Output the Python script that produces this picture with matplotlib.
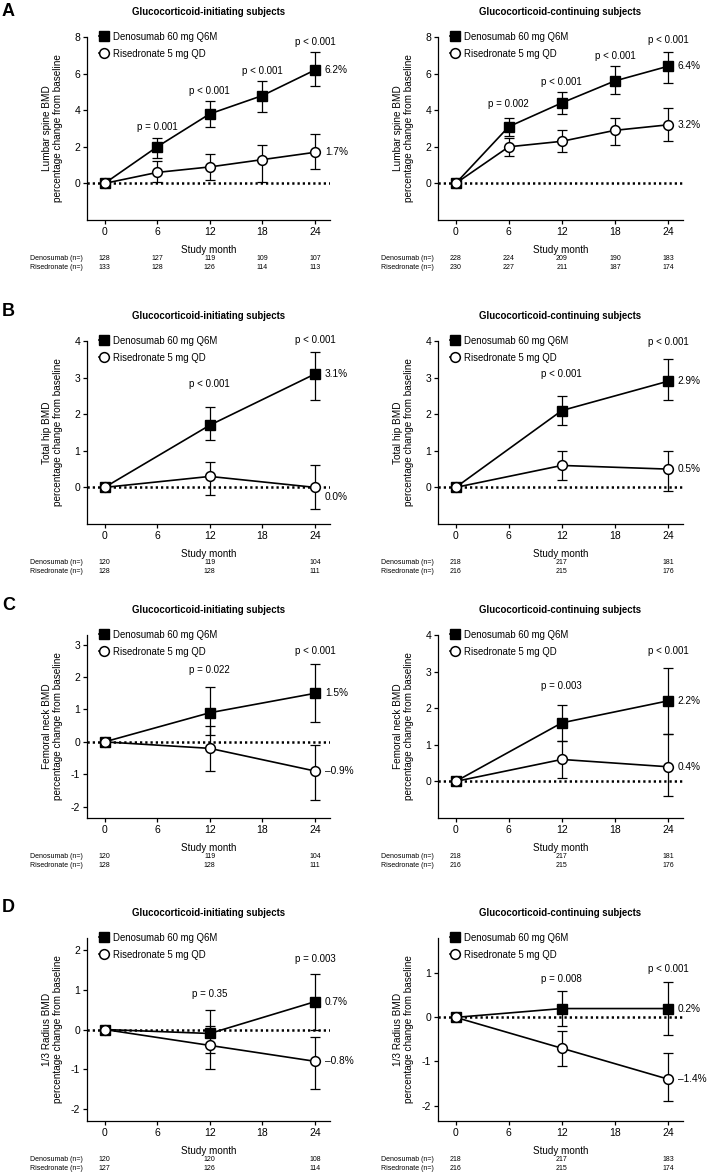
import matplotlib
matplotlib.use("Agg")
import matplotlib.pyplot as plt
from matplotlib.lines import Line2D

plt.rcParams['font.family'] = ['Liberation Sans', 'DejaVu Sans']

# ---- data ----
months_long = [0, 6, 12, 18, 24]
months_short = [0, 12, 24]

# A: lumbar spine
ls_init_deno = [0, 2.0, 3.8, 4.8, 6.2]
ls_init_deno_lo = [0, 1.4, 3.1, 3.9, 5.3]
ls_init_deno_hi = [0, 2.5, 4.5, 5.6, 7.2]
ls_init_rise = [0, 0.6, 0.9, 1.3, 1.7]
ls_init_rise_lo = [0, 0.05, 0.2, 0.1, 0.8]
ls_init_rise_hi = [0, 1.2, 1.6, 2.1, 2.7]
ls_init_p = ["", "p = 0.001", "p < 0.001", "p < 0.001", "p < 0.001"]
ls_init_n_deno = [128, 127, 119, 109, 107]
ls_init_n_rise = [133, 128, 126, 114, 113]

ls_cont_deno = [0, 3.1, 4.4, 5.6, 6.4]
ls_cont_deno_lo = [0, 2.6, 3.8, 4.9, 5.5]
ls_cont_deno_hi = [0, 3.6, 5.0, 6.4, 7.2]
ls_cont_rise = [0, 2.0, 2.3, 2.9, 3.2]
ls_cont_rise_lo = [0, 1.5, 1.7, 2.1, 2.3]
ls_cont_rise_hi = [0, 2.5, 2.9, 3.6, 4.1]
ls_cont_p = ["", "p = 0.002", "p < 0.001", "p < 0.001", "p < 0.001"]
ls_cont_n_deno = [228, 224, 209, 190, 183]
ls_cont_n_rise = [230, 227, 211, 187, 174]

# B: total hip
th_init_deno = [0, 1.7, 3.1]
th_init_deno_lo = [0, 1.3, 2.4]
th_init_deno_hi = [0, 2.2, 3.7]
th_init_rise = [0, 0.3, 0.0]
th_init_rise_lo = [0, -0.2, -0.6]
th_init_rise_hi = [0, 0.7, 0.6]
th_init_p = ["", "p < 0.001", "p < 0.001"]
th_init_n_deno = [120, 119, 104]
th_init_n_rise = [128, 128, 111]

th_cont_deno = [0, 2.1, 2.9]
th_cont_deno_lo = [0, 1.7, 2.4]
th_cont_deno_hi = [0, 2.5, 3.5]
th_cont_rise = [0, 0.6, 0.5]
th_cont_rise_lo = [0, 0.2, -0.1]
th_cont_rise_hi = [0, 1.0, 1.0]
th_cont_p = ["", "p < 0.001", "p < 0.001"]
th_cont_n_deno = [218, 217, 181]
th_cont_n_rise = [216, 215, 176]

# C: femoral neck
fn_init_deno = [0, 0.9, 1.5]
fn_init_deno_lo = [0, 0.2, 0.6]
fn_init_deno_hi = [0, 1.7, 2.4]
fn_init_rise = [0, -0.2, -0.9]
fn_init_rise_lo = [0, -0.9, -1.8]
fn_init_rise_hi = [0, 0.5, -0.1]
fn_init_p = ["", "p = 0.022", "p < 0.001"]
fn_init_n_deno = [120, 119, 104]
fn_init_n_rise = [128, 128, 111]

fn_cont_deno = [0, 1.6, 2.2]
fn_cont_deno_lo = [0, 1.1, 1.3]
fn_cont_deno_hi = [0, 2.1, 3.1]
fn_cont_rise = [0, 0.6, 0.4]
fn_cont_rise_lo = [0, 0.1, -0.4]
fn_cont_rise_hi = [0, 1.1, 1.3]
fn_cont_p = ["", "p = 0.003", "p < 0.001"]
fn_cont_n_deno = [218, 217, 181]
fn_cont_n_rise = [216, 215, 176]

# D: 1/3 radius
rd_init_deno = [0, -0.1, 0.7]
rd_init_deno_lo = [0, -0.6, 0.0]
rd_init_deno_hi = [0, 0.5, 1.4]
rd_init_rise = [0, -0.4, -0.8]
rd_init_rise_lo = [0, -1.0, -1.5]
rd_init_rise_hi = [0, 0.1, -0.2]
rd_init_p = ["", "p = 0.35", "p = 0.003"]
rd_init_n_deno = [120, 120, 108]
rd_init_n_rise = [127, 126, 114]

rd_cont_deno = [0, 0.2, 0.2]
rd_cont_deno_lo = [0, -0.2, -0.4]
rd_cont_deno_hi = [0, 0.6, 0.8]
rd_cont_rise = [0, -0.7, -1.4]
rd_cont_rise_lo = [0, -1.1, -1.9]
rd_cont_rise_hi = [0, -0.3, -0.8]
rd_cont_p = ["", "p = 0.008", "p < 0.001"]
rd_cont_n_deno = [218, 217, 183]
rd_cont_n_rise = [216, 215, 174]

W, H = 709, 1173
fig = plt.figure(figsize=(W / 100, H / 100), dpi=100)


def fmt_pct(v):
    s = "%.1f%%" % abs(v)
    return ("\u2013" + s) if v < 0 else s


def panel(left, top, width, months, deno, dlo, dhi, rise, rlo, rhi, pvals, p_y,
          n_deno, n_rise, ylim, yticks, ylabel, title, rise_lab_y=None):
    ax = fig.add_axes([left / W, 1 - (top + 183) / H, width / W, 183 / H])
    ax.set_xlim(-2, 25.7)
    ax.set_ylim(*ylim)
    ax.set_xticks([0, 6, 12, 18, 24])
    ax.set_yticks(yticks)
    ax.set_yticklabels([str(t) for t in yticks])
    for s in ["top", "right"]:
        ax.spines[s].set_visible(False)
    for s in ["left", "bottom"]:
        ax.spines[s].set_linewidth(0.9)
    ax.tick_params(labelsize=7.5, length=3, width=0.9, pad=2)

    ax.axhline(0, color="black", lw=1.8, ls=(0, (0.9, 1.2)), zorder=1)

    ax.errorbar(months, deno, yerr=[[d - l for d, l in zip(deno, dlo)], [h - d for d, h in zip(deno, dhi)]],
                fmt="none", ecolor="black", elinewidth=0.9, capsize=3.5, capthick=0.9, zorder=2)
    ax.errorbar(months, rise, yerr=[[d - l for d, l in zip(rise, rlo)], [h - d for d, h in zip(rise, rhi)]],
                fmt="none", ecolor="black", elinewidth=0.9, capsize=3.5, capthick=0.9, zorder=2)
    ax.plot(months, deno, color="black", lw=1.2, marker="s", ms=6.5, mfc="black", mec="black", zorder=3)
    ax.plot(months, rise, color="black", lw=1.2, marker="o", ms=7, mfc="white", mec="black", mew=1.1, zorder=4)

    for m, p, y in zip(months, pvals, p_y):
        if p:
            ax.text(m, y, p, ha="center", va="center", fontsize=7)

    ax.annotate(fmt_pct(deno[-1]), (months[-1], deno[-1]), xytext=(7, 0), textcoords="offset points",
                ha="left", va="center", fontsize=7.3)
    ry = rise[-1] if rise_lab_y is None else rise_lab_y
    ax.annotate(fmt_pct(rise[-1]), (months[-1], ry), xytext=(7, 0), textcoords="offset points",
                ha="left", va="center", fontsize=7.3)

    handles = [Line2D([], [], color="black", lw=1.2, marker="s", ms=6.5, mfc="black"),
               Line2D([], [], color="black", lw=1.2, marker="o", ms=7, mfc="white", mew=1.1)]
    ax.legend(handles, ["Denosumab 60 mg Q6M", "Risedronate 5 mg QD"], loc="upper left",
              bbox_to_anchor=(0.05, 1.03), frameon=False, fontsize=6.9, handlelength=1.0,
              handletextpad=0.45, borderpad=0, borderaxespad=0, labelspacing=0.75)

    ax.set_ylabel(ylabel, fontsize=7.2, linespacing=1.05)
    ax.yaxis.set_label_coords(-0.1, 0.5)
    ax.set_xlabel("Study month", fontsize=7.1)
    ax.xaxis.set_label_coords(0.5, -0.135)
    ax.text(0.5, 1.137, title, transform=ax.transAxes, ha="center", va="center",
            fontsize=6.9, fontweight="bold")

    ax.text(-0.234, -0.21, "Denosumab (n=)", transform=ax.transAxes, fontsize=5, va="center")
    ax.text(-0.234, -0.262, "Risedronate (n=)", transform=ax.transAxes, fontsize=5, va="center")
    for m, a, b in zip(months, n_deno, n_rise):
        ax.annotate(str(a), (m, -0.21), xycoords=("data", "axes fraction"),
                    fontsize=5, ha="center", va="center")
        ax.annotate(str(b), (m, -0.262), xycoords=("data", "axes fraction"),
                    fontsize=5, ha="center", va="center")
    return ax


LX, LW = 87, 243
RX, RW = 438, 245
ttl_i = "Glucocorticoid-initiating subjects"
ttl_c = "Glucocorticoid-continuing subjects"

panel(LX, 37, LW, months_long, ls_init_deno, ls_init_deno_lo, ls_init_deno_hi,
      ls_init_rise, ls_init_rise_lo, ls_init_rise_hi, ls_init_p, [0, 3.1, 5.06, 6.15, 7.74],
      ls_init_n_deno, ls_init_n_rise, (-2, 8), [0, 2, 4, 6, 8],
      "Lumbar spine BMD\npercentage change from baseline", ttl_i)
panel(RX, 37, RW, months_long, ls_cont_deno, ls_cont_deno_lo, ls_cont_deno_hi,
      ls_cont_rise, ls_cont_rise_lo, ls_cont_rise_hi, ls_cont_p, [0, 4.33, 5.55, 6.95, 7.85],
      ls_cont_n_deno, ls_cont_n_rise, (-2, 8), [0, 2, 4, 6, 8],
      "Lumbar spine BMD\npercentage change from baseline", ttl_c)

panel(LX, 341, LW, months_short, th_init_deno, th_init_deno_lo, th_init_deno_hi,
      th_init_rise, th_init_rise_lo, th_init_rise_hi, th_init_p, [0, 2.82, 4.04],
      th_init_n_deno, th_init_n_rise, (-1, 4), [0, 1, 2, 3, 4],
      "Total hip BMD\npercentage change from baseline", ttl_i, rise_lab_y=-0.25)
panel(RX, 341, RW, months_short, th_cont_deno, th_cont_deno_lo, th_cont_deno_hi,
      th_cont_rise, th_cont_rise_lo, th_cont_rise_hi, th_cont_p, [0, 3.09, 3.96],
      th_cont_n_deno, th_cont_n_rise, (-1, 4), [0, 1, 2, 3, 4],
      "Total hip BMD\npercentage change from baseline", ttl_c)

panel(LX, 635, LW, months_short, fn_init_deno, fn_init_deno_lo, fn_init_deno_hi,
      fn_init_rise, fn_init_rise_lo, fn_init_rise_hi, fn_init_p, [0, 2.23, 2.82],
      fn_init_n_deno, fn_init_n_rise, (-2.35, 3.3), [-2, -1, 0, 1, 2, 3],
      "Femoral neck BMD\npercentage change from baseline", ttl_i)
panel(RX, 635, RW, months_short, fn_cont_deno, fn_cont_deno_lo, fn_cont_deno_hi,
      fn_cont_rise, fn_cont_rise_lo, fn_cont_rise_hi, fn_cont_p, [0, 2.6, 3.55],
      fn_cont_n_deno, fn_cont_n_rise, (-1, 4), [0, 1, 2, 3, 4],
      "Femoral neck BMD\npercentage change from baseline", ttl_c)

panel(LX, 938, LW, months_short, rd_init_deno, rd_init_deno_lo, rd_init_deno_hi,
      rd_init_rise, rd_init_rise_lo, rd_init_rise_hi, rd_init_p, [0, 0.9, 1.78],
      rd_init_n_deno, rd_init_n_rise, (-2.3, 2.3), [-2, -1, 0, 1, 2],
      "1/3 Radius BMD\npercentage change from baseline", ttl_i)
panel(RX, 938, RW, months_short, rd_cont_deno, rd_cont_deno_lo, rd_cont_deno_hi,
      rd_cont_rise, rd_cont_rise_lo, rd_cont_rise_hi, rd_cont_p, [0, 0.88, 1.1],
      rd_cont_n_deno, rd_cont_n_rise, (-2.35, 1.8), [-2, -1, 0, 1],
      "1/3 Radius BMD\npercentage change from baseline", ttl_c)

for letter, ypx in zip("ABCD", [12, 312, 605, 908]):
    fig.text(2 / W, 1 - ypx / H, letter, fontsize=13, fontweight="bold", va="center", ha="left")

fig.savefig("out.png", dpi=100)
